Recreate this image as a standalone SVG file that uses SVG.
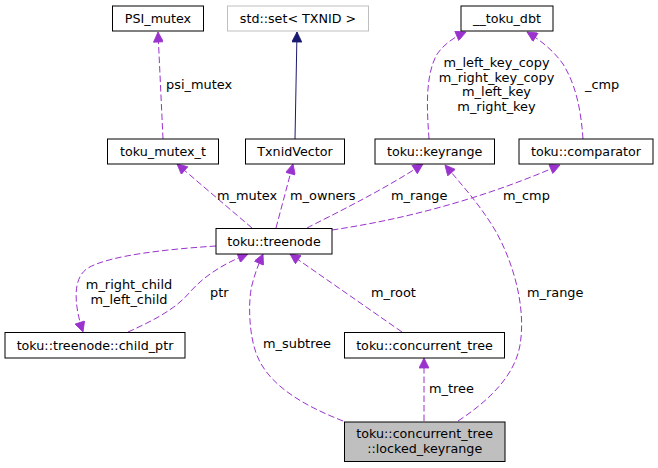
<svg xmlns="http://www.w3.org/2000/svg" width="658" height="468" viewBox="0 0 658 468">
<defs>
<style>
.n rect{fill:#ffffff;stroke:#000000;stroke-width:1}
.n text{font-family:"DejaVu Sans",sans-serif;font-size:12.7px;fill:#000000;text-anchor:middle}
.e{fill:none;stroke:#9a32cd;stroke-width:1;stroke-dasharray:6.5,3}
.s{fill:none;stroke:#191970;stroke-width:1}
.l{font-family:"DejaVu Sans",sans-serif;font-size:12.9px;fill:#000000}
.c{text-anchor:middle}
</style>
<marker id="ap" viewBox="0 0 10 10" refX="10" refY="5" markerWidth="12" markerHeight="10" markerUnits="userSpaceOnUse" orient="auto"><path d="M0,0 L10,5 L0,10 z" fill="#9a32cd" stroke="#9a32cd" stroke-width="0.8"/></marker>
<marker id="an" viewBox="0 0 10 10" refX="10" refY="5" markerWidth="12" markerHeight="10" markerUnits="userSpaceOnUse" orient="auto"><path d="M0,0 L10,5 L0,10 z" fill="#191970" stroke="#191970" stroke-width="0.8"/></marker>
</defs>
<rect x="0" y="0" width="658" height="468" fill="#ffffff"/>
<g id="connectors">
<path class="e" marker-end="url(#ap)" d="M163,139 L158,32"/>
<path class="s" marker-end="url(#an)" d="M295,139 L297,32"/>
<path class="e" marker-end="url(#ap)" d="M429,139 C427,110 425,78 436,56 C442,46 452,38 466,32"/>
<path class="e" marker-end="url(#ap)" d="M583,139 C581,110 576,85 563,64 C553,50 540,40 527,32"/>
<path class="e" marker-end="url(#ap)" d="M252,228 L177,164"/>
<path class="e" marker-end="url(#ap)" d="M276,228 L293,164"/>
<path class="e" marker-end="url(#ap)" d="M307,228 C330,216 380,192 423,164"/>
<path class="e" marker-end="url(#ap)" d="M332,230 C400,220 480,200 560,165"/>
<path class="e" marker-end="url(#ap)" d="M458,421 C490,400 515,375 520,345 C526,310 515,265 495,230 C480,205 462,185 445,165"/>
<path class="e" marker-end="url(#ap)" d="M128,332 C150,322 175,310 190,292 C205,275 225,263 248,254"/>
<path class="e" marker-end="url(#ap)" d="M216,246 C170,249 110,255 88,268 C72,278 74,305 83,332"/>
<path class="e" marker-end="url(#ap)" d="M343,421 C310,408 275,390 260,362 C248,340 248,300 252,285 C255,273 259,263 263,254"/>
<path class="e" marker-end="url(#ap)" d="M402,332 L290,254"/>
<path class="e" marker-end="url(#ap)" d="M424,421 L424,358"/>
<text class="l" x="166" y="89">psi_mutex</text>
<text class="l c" x="496.5" y="67">m_left_key_copy</text>
<text class="l c" x="496.5" y="81.5">m_right_key_copy</text>
<text class="l c" x="496.5" y="96">m_left_key</text>
<text class="l c" x="496.5" y="110.5">m_right_key</text>
<text class="l" x="585" y="89">_cmp</text>
<text class="l" x="217" y="200">m_mutex</text>
<text class="l" x="290" y="200">m_owners</text>
<text class="l" x="391" y="200">m_range</text>
<text class="l" x="503" y="200">m_cmp</text>
<text class="l c" x="129" y="289">m_right_child</text>
<text class="l c" x="129" y="303.5">m_left_child</text>
<text class="l" x="210" y="297">ptr</text>
<text class="l" x="371" y="297">m_root</text>
<text class="l" x="527" y="297">m_range</text>
<text class="l" x="263" y="348">m_subtree</text>
<text class="l" x="429" y="393">m_tree</text>
</g>
<g id="PSI_mutex" class="n"><rect x="112.5" y="6" width="91" height="25"/><text x="158" y="23">PSI_mutex</text></g>
<g id="std_set" class="n"><rect x="227.5" y="6" width="141" height="25" style="stroke:#bfbfbf"/><text x="298" y="23">std::set&lt; TXNID &gt;</text></g>
<g id="toku_dbt" class="n"><rect x="461" y="6" width="92" height="25"/><text x="507" y="23">__toku_dbt</text></g>
<g id="toku_mutex_t" class="n"><rect x="107.5" y="139" width="111" height="25"/><text x="163" y="156">toku_mutex_t</text></g>
<g id="TxnidVector" class="n"><rect x="245.5" y="139" width="99" height="25"/><text x="295" y="156">TxnidVector</text></g>
<g id="keyrange" class="n"><rect x="375" y="139" width="119.5" height="25"/><text x="434.7" y="156">toku::keyrange</text></g>
<g id="comparator" class="n"><rect x="519" y="139" width="134" height="25"/><text x="586" y="156">toku::comparator</text></g>
<g id="treenode" class="n"><rect x="216" y="228.5" width="116" height="25.5"/><text x="274" y="246">toku::treenode</text></g>
<g id="child_ptr" class="n"><rect x="5" y="332.5" width="180" height="25.5"/><text x="95" y="350">toku::treenode::child_ptr</text></g>
<g id="concurrent_tree" class="n"><rect x="344.5" y="332.5" width="160" height="25.5"/><text x="424.5" y="350">toku::concurrent_tree</text></g>
<g id="locked_keyrange" class="n"><rect x="344.5" y="422" width="160.5" height="39.5" style="fill:#bfbfbf"/><text x="424.7" y="438">toku::concurrent_tree</text><text x="424.7" y="452.5">::locked_keyrange</text></g>
</svg>
